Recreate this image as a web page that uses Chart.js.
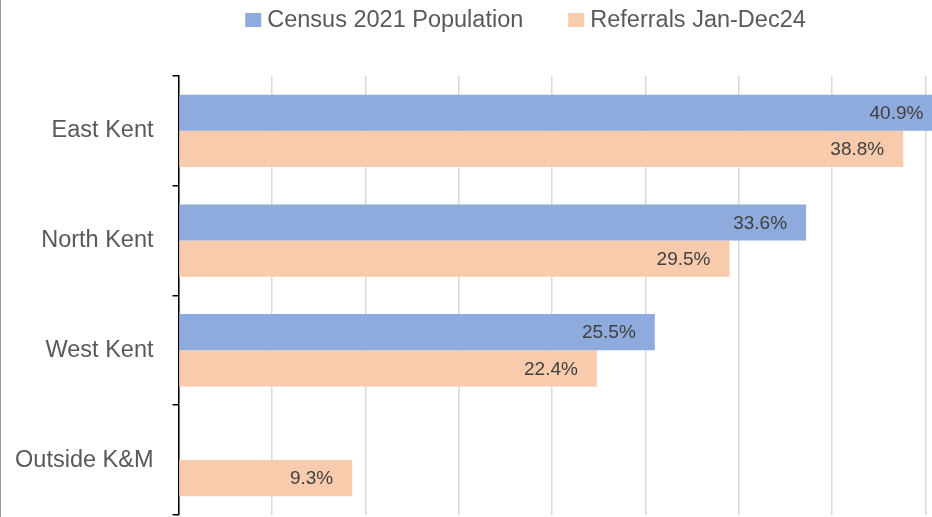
<!DOCTYPE html>
<html>
<head>
<meta charset="utf-8">
<script src="https://cdn.jsdelivr.net/npm/chart.js@4"></script>
<style>
    html, body { margin: 0; padding: 0; overflow: hidden; background: #fff; }
    #wrap { position: relative; width: 1040px; height: 548px; border-left: 1.5px solid #9a9a9a; box-sizing: border-box; }
</style>
</head>
<body>
<div id="wrap"><canvas id="chart"></canvas></div>
<script>
var regions = ['East Kent', 'North Kent', 'West Kent', 'Outside K&M'];
var censusPopulation = [40.9, 33.6, 25.5, null];
var referrals = [38.8, 29.5, 22.4, 9.3];
var seriesNames = ['Census 2021 Population', 'Referrals Jan-Dec24'];
var seriesColors = ['#8FAADC', '#F8CBAD'];

var fontFamily = '"Liberation Sans", Arial, sans-serif';

// percent labels drawn inside the end of each bar
var barLabels = {
    id: 'barLabels',
    afterDatasetsDraw: function(chart) {
        var ctx = chart.ctx;
        ctx.save();
        ctx.font = '19px ' + fontFamily;
        ctx.fillStyle = '#404040';
        ctx.textAlign = 'right';
        ctx.textBaseline = 'middle';
        chart.data.datasets.forEach(function(ds, i) {
            chart.getDatasetMeta(i).data.forEach(function(bar, j) {
                var v = ds.data[j];
                if (v === null || v === undefined) return;
                ctx.fillText(v.toFixed(1) + '%', bar.x - 19, bar.y + 1);
            });
        });
        ctx.restore();
    }
};

// Excel style legend: small square hugging the text
var topLegend = {
    id: 'topLegend',
    afterDraw: function(chart) {
        var ctx = chart.ctx;
        var box = 16, gap = 6, spacing = 45;
        ctx.save();
        ctx.font = '23.5px ' + fontFamily;
        var widths = chart.data.datasets.map(function(ds) {
            return ctx.measureText(ds.label).width;
        });
        var total = 0;
        widths.forEach(function(w) { total += box + gap + w; });
        total += spacing * (widths.length - 1);
        var x = chart.width / 2 + 5 - total / 2;
        chart.data.datasets.forEach(function(ds, i) {
            ctx.fillStyle = ds.backgroundColor;
            ctx.fillRect(x, 13, box, 14);
            ctx.fillStyle = '#595959';
            ctx.textAlign = 'left';
            ctx.textBaseline = 'alphabetic';
            ctx.fillText(ds.label, x + box + gap, 27);
            x += box + gap + widths[i] + spacing;
        });
        ctx.restore();
    }
};

new Chart(document.getElementById('chart'), {
    type: 'bar',
    data: {
        labels: regions,
        datasets: [{
            label: seriesNames[0],
            data: censusPopulation,
            backgroundColor: seriesColors[0]
        }, {
            label: seriesNames[1],
            data: referrals,
            backgroundColor: seriesColors[1]
        }]
    },
    options: {
        indexAxis: 'y',
        responsive: true,
        maintainAspectRatio: false,
        animation: false,
        categoryPercentage: 0.66,
        barPercentage: 1.0,
        layout: { padding: { left: 0, right: 21, top: 76, bottom: 4 } },
        plugins: {
            legend: { display: false },
            tooltip: { enabled: false }
        },
        scales: {
            x: {
                min: 0,
                max: 45,
                ticks: { display: false, stepSize: 5 },
                grid: { color: '#d9d9d9', lineWidth: 1.5, drawTicks: false },
                border: { display: false }
            },
            y: {
                afterFit: function(scale) { scale.width = 177.5; },
                ticks: {
                    color: '#595959',
                    padding: 19,
                    font: { family: fontFamily, size: 23.5 }
                },
                grid: {
                    offset: true,
                    drawOnChartArea: false,
                    tickLength: 6,
                    color: '#000',
                    lineWidth: 1.5
                },
                border: { color: '#000', width: 1.5 }
            }
        }
    },
    plugins: [barLabels, topLegend]
});
</script>
</body>
</html>
